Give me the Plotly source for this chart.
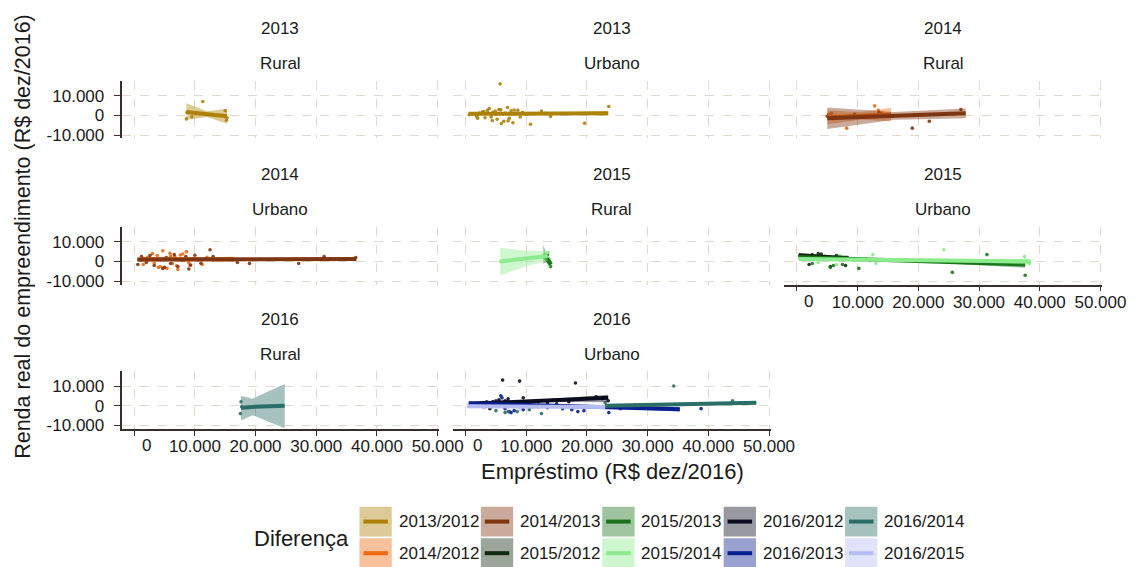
import plotly.graph_objects as go

W, H = 1144, 567

# ------------------------------------------------------------------ categories
series_names = ["2013/2012", "2014/2012", "2014/2013", "2015/2012", "2015/2013",
                "2015/2014", "2016/2012", "2016/2013", "2016/2014", "2016/2015"]
series_colors = ["#AD8108", "#EE6A11", "#7E3511", "#102A10", "#1A731A",
                 "#8CEB8C", "#0B0B1F", "#0A1F8F", "#2B6D67", "#B5BDF2"]

panel_years = ["2013", "2013", "2014", "2014", "2015", "2015", "2016", "2016"]
panel_areas = ["Rural", "Urbano", "Rural", "Urbano", "Rural", "Urbano", "Rural", "Urbano"]

x_ticks = [0, 10000, 20000, 30000, 40000, 50000]
x_tick_labels = ["0", "10.000", "20.000", "30.000", "40.000", "50.000"]
y_ticks = [-10000, 0, 10000]
y_tick_labels = ["-10.000", "0", "10.000"]

x_title = "Empréstimo (R$ dez/2016)"
y_title = "Renda real do empreendimento (R$ dez/2016)"
legend_title = "Diferença"

# ------------------------------------------------------------------ points
# 2013 Rural – 2013/2012
r13_a_x = [8600, 9500, 11300, 15000, 15200, 15300, 8700]
r13_a_y = [-1800, -700, 7000, 2300, -2500, -1200, 1500]
# 2013 Urbano – 2013/2012
u13_a_x = [600, 1200, 1800, 2300, 2800, 3200, 3600, 3900, 4200, 4500, 4900, 5200, 5500, 5700,
           5900, 6100, 6300, 6600, 6900, 7200, 7500, 7800, 8200, 8600, 9000, 9400, 10000,
           10700, 12500, 13100, 14000, 16000, 19600, 23600, 2000, 4400, 5800, 7000, 8000, 3000]
u13_a_y = [300, 800, -500, 1200, 1800, -1200, 2500, 3500, -800, 1500, 2200, -2000, 3000, 16000,
           -4200, 800, -3000, 1200, 4000, -1500, 2300, -3800, 1000, 2600, -800, 1400, 500,
           -4500, 2200, 1000, -600, 800, -4000, 4500, -1500, -2600, 2800, -2800, 2700, 1900]
# 2014 Rural – 2014/2012 and 2014/2013
r14_b_x = [5200, 5700, 8200, 12800, 13400, 14000, 15500]
r14_b_y = [500, 1000, -6500, 4800, 2500, 1200, -500]
r14_c_x = [5000, 9500, 13500, 19000, 21800, 27000]
r14_c_y = [-500, 500, 1500, -6500, -3000, 3000]
# 2014 Urbano – 2014/2012 and 2014/2013
u14_b_x = [1000, 1500, 2200, 2800, 3300, 3800, 4300, 4700, 5000, 5400, 5900, 6300, 6700, 7200,
           7600, 8100, 8600, 9200, 9800, 10500, 11200, 12000, 13000, 14500, 16000, 3000, 4000,
           6000, 7000, 8000, 9000]
u14_b_y = [500, -1500, 2000, 1200, -800, 3000, -2500, 5500, 1500, -3500, 4200, -1000, 2500, -4000,
           3300, 800, 5000, -2000, 1500, 600, -1500, 2200, 1000, 800, 1200, 4000, -3000,
           2800, -2200, 3800, -600]
u14_c_x = [600, 1200, 2000, 2600, 3300, 4000, 4700, 5300, 6000, 6600, 7200, 7800, 8500, 9300,
           10000, 11000, 12500, 13000, 15500, 17000, 19000, 27100, 31300, 36500, 5000, 9000]
u14_c_y = [-1500, 2500, -500, 3000, -2000, 1000, -3500, 2000, -1000, 3500, -2500, 800, 2500, -1800,
           3200, -900, 6000, 2500, 1000, -500, -1000, -1000, 2500, 2000, -3000, -3800]
# 2015 Rural – 2015/2013 and 2015/2014
r15_e_x = [13000, 13500, 13800, 14000, 13600]
r15_e_y = [2000, 3500, -1000, -2500, 500]
r15_f_x = [5800, 13600, 13800]
r15_f_y = [0, 4500, -2000]
# 2015 Urbano – 2015/2012, 2015/2013, 2015/2014
u15_d_x = [500, 1500, 2500, 3000, 3500, 4500, 5500, 6500, 7000, 8000, 2000, 4000]
u15_d_y = [3000, 2000, 3500, 1500, 4000, 2500, -2500, 3000, 1000, -2000, -1500, 3800]
u15_e_x = [1000, 2500, 4000, 5500, 6500, 7500, 9000, 10200, 12000, 31300, 25600, 37600, 3000, 6000]
u15_e_y = [1500, -1000, 2000, -3000, 2500, -1500, 1000, -3500, 500, 3500, -5500, -7000, 1000, -2000]
u15_f_x = [800, 2000, 3500, 5000, 6500, 8000, 9500, 11500, 12500, 13000, 16000, 24200, 37500, 38300, 7000]
u15_f_y = [1000, 2500, -500, 1500, -1500, 2000, 500, 1500, 3500, -1000, 1000, 6000, 2500, -1000, 3000]
# 2016 Rural – 2016/2014
r16_i_x = [17600, 17700, 17500]
r16_i_y = [2000, -500, -4000]
# 2016 Urbano – 2016/2012, 2016/2013, 2016/2014, 2016/2015
u16_g_x = [3000, 4500, 5500, 6100, 6500, 7000, 8000, 8900, 10500, 12000, 13500, 15000, 17000,
           18100, 21500, 22500, 23500, 4000, 9500]
u16_g_y = [1500, 2000, 3000, 13000, 2500, 3500, 1500, 12500, 1000, 2000, 1500, 1000, 2000,
           11500, 4500, 3500, 2500, -1500, 4000]
u16_h_x = [2500, 3500, 5000, 5800, 6500, 7200, 8000, 9500, 11000, 13500, 16000, 17500, 18500,
           19500, 23600, 25500, 38800, 6000, 7500]
u16_h_y = [1500, 2000, 2500, 5000, -1500, -3000, -2500, -2000, -500, -1000, -1500, -2000, -3000,
           -2500, -3500, -1500, -1500, 4000, -3500]
u16_i_x = [5000, 6500, 7000, 8500, 10500, 12500, 34300, 23000, 28000, 44000]
u16_i_y = [-2500, -3500, -3000, -3000, -2000, -4000, 10000, 1500, 500, 2500]
u16_j_x = [1000, 3000, 6000, 9000, 12000, 15000, 18000, 21000]
u16_j_y = [-500, -1000, -200, -1500, -800, -300, -1200, -600]

# ------------------------------------------------------------------ linear fits
# x at start / middle / end, fitted value, lower and upper confidence limits
r13_a_fx = [8600, 12000, 15300]; r13_a_fy = [1700, 600, -500]
r13_a_lo = [-2200, -900, -4300]; r13_a_hi = [6200, 2100, 3300]
u13_a_fx = [500, 12000, 23500]; u13_a_fy = [800, 900, 1000]
u13_a_lo = [100, 600, -100]; u13_a_hi = [1500, 1200, 2100]
r14_b_fx = [5000, 10500, 15500]; r14_b_fy = [-1000, -300, 400]
r14_b_lo = [-4500, -2300, -3000]; r14_b_hi = [2500, 1700, 3800]
r14_c_fx = [5000, 16000, 27800]; r14_c_fy = [-1500, -300, 1000]
r14_c_lo = [-7000, -2300, -1500]; r14_c_hi = [4000, 1700, 3500]
u14_b_fx = [1000, 8500, 16400]; u14_b_fy = [1200, 1200, 1200]
u14_b_lo = [0, 700, -100]; u14_b_hi = [2400, 1700, 2500]
u14_c_fx = [500, 18000, 36600]; u14_c_fy = [1000, 1200, 1300]
u14_c_lo = [500, 900, 400]; u14_c_hi = [1500, 1500, 2200]
r15_e_fx = [12800, 13400, 14100]; r15_e_fy = [3500, 1200, -1500]
r15_e_lo = [-1000, -500, -4000]; r15_e_hi = [8500, 3000, 1500]
r15_f_fx = [5700, 9800, 13500]; r15_f_fy = [0, 1500, 2800]
r15_f_lo = [-7000, -2500, 200]; r15_f_hi = [7000, 5500, 5400]
u15_d_fx = [300, 4500, 8500]; u15_d_fy = [3200, 2500, 1700]
u15_d_lo = [2000, 1900, 400]; u15_d_hi = [4400, 3100, 3000]
u15_e_fx = [300, 19000, 37600]; u15_e_fy = [2200, 500, -1500]
u15_e_lo = [1500, 0, -3200]; u15_e_hi = [2900, 1000, 200]
u15_f_fx = [300, 19000, 38500]; u15_f_fy = [1300, 600, 0]
u15_f_lo = [800, 200, -1500]; u15_f_hi = [1800, 1000, 1500]
r16_i_fx = [17600, 19500, 24800]; r16_i_fy = [-1000, -600, 0]
r16_i_lo = [-7500, -4800, -11400]; r16_i_hi = [5000, 3600, 11000]
u16_g_fx = [800, 12000, 23500]; u16_g_fy = [1000, 2500, 4000]
u16_g_lo = [0, 2000, 1800]; u16_g_hi = [2000, 3000, 5600]
u16_h_fx = [500, 18000, 35300]; u16_h_fy = [1200, -200, -1800]
u16_h_lo = [500, -600, -3000]; u16_h_hi = [1900, 200, -600]
u16_i_fx = [23000, 35000, 47900]; u16_i_fy = [0, 700, 1500]
u16_i_lo = [-700, 300, 600]; u16_i_hi = [700, 1100, 2400]
u16_j_fx = [200, 11500, 23000]; u16_j_fy = [-300, -500, -700]
u16_j_lo = [-1200, -1000, -1600]; u16_j_hi = [600, 0, 200]

# (panel index, series name, point x, point y, fit x, fit y, lower, upper)
layers = [
    (0, "2013/2012", r13_a_x, r13_a_y, r13_a_fx, r13_a_fy, r13_a_lo, r13_a_hi),
    (1, "2013/2012", u13_a_x, u13_a_y, u13_a_fx, u13_a_fy, u13_a_lo, u13_a_hi),
    (2, "2014/2012", r14_b_x, r14_b_y, r14_b_fx, r14_b_fy, r14_b_lo, r14_b_hi),
    (2, "2014/2013", r14_c_x, r14_c_y, r14_c_fx, r14_c_fy, r14_c_lo, r14_c_hi),
    (3, "2014/2012", u14_b_x, u14_b_y, u14_b_fx, u14_b_fy, u14_b_lo, u14_b_hi),
    (3, "2014/2013", u14_c_x, u14_c_y, u14_c_fx, u14_c_fy, u14_c_lo, u14_c_hi),
    (4, "2015/2013", r15_e_x, r15_e_y, r15_e_fx, r15_e_fy, r15_e_lo, r15_e_hi),
    (4, "2015/2014", r15_f_x, r15_f_y, r15_f_fx, r15_f_fy, r15_f_lo, r15_f_hi),
    (5, "2015/2012", u15_d_x, u15_d_y, u15_d_fx, u15_d_fy, u15_d_lo, u15_d_hi),
    (5, "2015/2013", u15_e_x, u15_e_y, u15_e_fx, u15_e_fy, u15_e_lo, u15_e_hi),
    (5, "2015/2014", u15_f_x, u15_f_y, u15_f_fx, u15_f_fy, u15_f_lo, u15_f_hi),
    (6, "2016/2014", r16_i_x, r16_i_y, r16_i_fx, r16_i_fy, r16_i_lo, r16_i_hi),
    (7, "2016/2012", u16_g_x, u16_g_y, u16_g_fx, u16_g_fy, u16_g_lo, u16_g_hi),
    (7, "2016/2013", u16_h_x, u16_h_y, u16_h_fx, u16_h_fy, u16_h_lo, u16_h_hi),
    (7, "2016/2014", u16_i_x, u16_i_y, u16_i_fx, u16_i_fy, u16_i_lo, u16_i_hi),
    (7, "2016/2015", u16_j_x, u16_j_y, u16_j_fx, u16_j_fy, u16_j_lo, u16_j_hi),
]

# ------------------------------------------------------------------ styling
FONT = "Liberation Sans, Arial, Helvetica, sans-serif"
TXT = "#1a1a1a"
AXC = "#3a2e2a"
GRID = "#E3D8CC"
BAND_ALPHA = 0.42

col_left = [116, 454.5, 793]
panel_w = 324.6
row_top = [74, 222, 368]
panel_h = 58
x_range = [-2080, 50280]
y_range = [-11700, 17400]


def hex_rgba(h, a):
    h = h.lstrip("#")
    return "rgba(%d,%d,%d,%.2f)" % (int(h[0:2], 16), int(h[2:4], 16), int(h[4:6], 16), a)


def band_color(h, a=BAND_ALPHA):
    h = h.lstrip("#")
    rgb = [int(h[i:i + 2], 16) for i in (0, 2, 4)]
    mix = [round(255 - a * (255 - v)) for v in rgb]
    return "#%02X%02X%02X" % tuple(mix)


color_of = dict(zip(series_names, series_colors))


def axname(i, kind):
    return kind if i == 0 else f"{kind}{i + 1}"


fig = go.Figure()

# points first (all groups), then smooths
for (p, s, px, py, fx, fy, lo, hi) in layers:
    fig.add_trace(go.Scatter(x=px, y=py, mode="markers",
                             marker=dict(size=3.6, color=color_of[s], opacity=0.9),
                             xaxis=axname(p, "x"), yaxis=axname(p, "y"),
                             showlegend=False, hoverinfo="skip"))
for (p, s, px, py, fx, fy, lo, hi) in layers:
    fig.add_trace(go.Scatter(x=fx + fx[::-1], y=hi + lo[::-1], mode="lines", fill="toself",
                             fillcolor=hex_rgba(color_of[s], BAND_ALPHA), line=dict(width=0),
                             xaxis=axname(p, "x"), yaxis=axname(p, "y"),
                             showlegend=False, hoverinfo="skip"))
    fig.add_trace(go.Scatter(x=fx, y=fy, mode="lines", line=dict(color=color_of[s], width=4),
                             xaxis=axname(p, "x"), yaxis=axname(p, "y"),
                             showlegend=False, hoverinfo="skip"))

layout = {}
annotations = []
shapes = []
# the "0" label is right-justified to the width of "10.000" (as R's format() does),
# so it is drawn as an annotation anchored at x = 0 and nudged right
x_tick_text_axis = [""] + x_tick_labels[1:]
for i in range(8):
    r, c = divmod(i, 3)
    left, top = col_left[c], row_top[r]
    bottom_axis = i in (5, 6, 7)
    left_axis = c == 0
    xa = dict(domain=[left / W, (left + panel_w) / W], range=x_range, anchor=axname(i, "y"),
              tickvals=x_ticks, ticktext=x_tick_text_axis, showgrid=True, gridcolor=GRID,
              griddash="dash", gridwidth=1, zeroline=False,
              showticklabels=bottom_axis, showline=bottom_axis, linecolor=AXC, linewidth=1.8,
              ticks="outside" if bottom_axis else "", ticklen=5, tickwidth=1.2, tickcolor=AXC,
              ticklabelstandoff=-4,
              tickfont=dict(size=17, color=TXT, family=FONT), fixedrange=True)
    ya = dict(domain=[1 - (top + panel_h) / H, 1 - top / H], range=y_range, anchor=axname(i, "x"),
              tickvals=y_ticks, ticktext=y_tick_labels, showgrid=True, gridcolor=GRID,
              griddash="dash", gridwidth=1, zeroline=False,
              showticklabels=left_axis, showline=left_axis, linecolor=AXC, linewidth=1.8,
              ticks="outside" if left_axis else "", ticklen=6, tickwidth=1.2, tickcolor=AXC,
              ticklabelstandoff=6,
              tickfont=dict(size=17, color=TXT, family=FONT), fixedrange=True)
    layout["xaxis" if i == 0 else f"xaxis{i + 1}"] = xa
    layout["yaxis" if i == 0 else f"yaxis{i + 1}"] = ya
    cx = (left + panel_w / 2) / W
    annotations.append(dict(text=panel_years[i], x=cx, y=1 - (top - 53) / H, xref="paper",
                            yref="paper", showarrow=False, xanchor="center", yanchor="middle",
                            font=dict(size=17, color=TXT, family=FONT)))
    annotations.append(dict(text=panel_areas[i], x=cx, y=1 - (top - 17.5) / H, xref="paper",
                            yref="paper", showarrow=False, xanchor="center", yanchor="middle",
                            font=dict(size=17, color=TXT, family=FONT)))
    if bottom_axis:
        annotations.append(dict(text=x_tick_labels[0], x=x_ticks[0], xref=axname(i, "x"),
                                y=1 - (top + panel_h + 17) / H, yref="paper", xshift=12,
                                showarrow=False, xanchor="center", yanchor="middle",
                                font=dict(size=17, color=TXT, family=FONT)))

# axis titles
annotations.append(dict(text=x_title, x=617 / W, y=1 - 469 / H, xref="paper", yref="paper",
                        showarrow=False, xanchor="center", yanchor="middle",
                        font=dict(size=22, color=TXT, family=FONT)))
annotations.append(dict(text=y_title, x=15 / W, y=1 - 231 / H, xref="paper", yref="paper",
                        showarrow=False, xanchor="center", yanchor="middle", textangle=-90,
                        font=dict(size=21.5, color=TXT, family=FONT)))

# legend (column-major, 2 rows)
annotations.append(dict(text=legend_title, x=350 / W, y=1 - 537 / H, xref="paper", yref="paper",
                        showarrow=False, xanchor="right", yanchor="middle",
                        font=dict(size=22, color=TXT, family=FONT)))
for k, s in enumerate(series_names):
    cc, rr = divmod(k, 2)
    x0 = 359 + 124 * cc
    y0 = 505 + 32 * rr
    shapes.append(dict(type="rect", xref="paper", yref="paper", x0=x0 / W, x1=(x0 + 33) / W,
                       y0=1 - y0 / H, y1=1 - (y0 + 30) / H, line=dict(width=0),
                       fillcolor=band_color(color_of[s])))
    shapes.append(dict(type="line", xref="paper", yref="paper", x0=(x0 + 4) / W, x1=(x0 + 29) / W,
                       y0=1 - (y0 + 15) / H, y1=1 - (y0 + 15) / H,
                       line=dict(color=color_of[s], width=4)))
    annotations.append(dict(text=s, x=(x0 + 38) / W, y=1 - (y0 + 15) / H, xref="paper",
                            yref="paper", showarrow=False, xanchor="left", yanchor="middle",
                            font=dict(size=17, color=TXT, family=FONT)))

fig.update_layout(**layout)
fig.update_layout(width=W, height=H, margin=dict(l=0, r=0, t=0, b=0),
                  paper_bgcolor="white", plot_bgcolor="white", showlegend=False,
                  annotations=annotations, shapes=shapes,
                  font=dict(family=FONT, color=TXT))

fig.write_html("out.html")
